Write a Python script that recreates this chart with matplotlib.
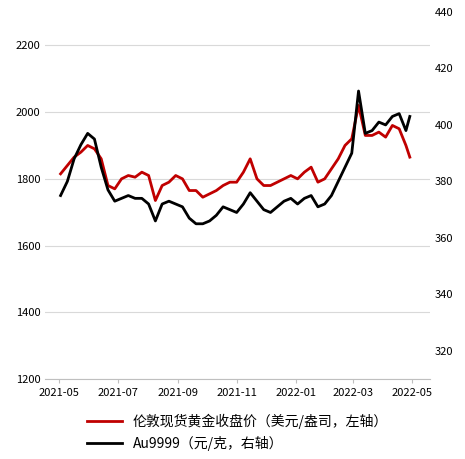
import matplotlib
matplotlib.use("Agg")
import matplotlib.pyplot as plt
import matplotlib.dates as mdates
import numpy as np
import pandas as pd

plt.rcParams['font.family'] = ['Noto Sans CJK SC', 'DejaVu Sans']

# approximate weekly values
dates = pd.to_datetime([
    "2021-05-03", "2021-05-10", "2021-05-17", "2021-05-24", "2021-05-31", "2021-06-07",
    "2021-06-14", "2021-06-21", "2021-06-28", "2021-07-05", "2021-07-12", "2021-07-19",
    "2021-07-26", "2021-08-02", "2021-08-09", "2021-08-16", "2021-08-23", "2021-08-30",
    "2021-09-06", "2021-09-13", "2021-09-20", "2021-09-27", "2021-10-04", "2021-10-11",
    "2021-10-18", "2021-10-25", "2021-11-01", "2021-11-08", "2021-11-15", "2021-11-22",
    "2021-11-29", "2021-12-06", "2021-12-13", "2021-12-20", "2021-12-27", "2022-01-03",
    "2022-01-10", "2022-01-17", "2022-01-24", "2022-01-31", "2022-02-07", "2022-02-14",
    "2022-02-21", "2022-02-28", "2022-03-07", "2022-03-14", "2022-03-21", "2022-03-28",
    "2022-04-04", "2022-04-11", "2022-04-18", "2022-04-25", "2022-04-29",
])
london_gold = [
    1815, 1840, 1865, 1880, 1900, 1890, 1860, 1780, 1770, 1800, 1810, 1805,
    1820, 1810, 1735, 1780, 1790, 1810, 1800, 1765, 1765, 1745, 1755, 1765,
    1780, 1790, 1790, 1820, 1860, 1800, 1780, 1780, 1790, 1800, 1810, 1800,
    1820, 1835, 1790, 1800, 1830, 1860, 1900, 1920, 2020, 1930, 1930, 1940,
    1925, 1960, 1950, 1900, 1865,
]
au9999 = [
    375, 380, 388, 393, 397, 395, 385, 377, 373, 374, 375, 374,
    374, 372, 366, 372, 373, 372, 371, 367, 365, 365, 366, 368,
    371, 370, 369, 372, 376, 373, 370, 369, 371, 373, 374, 372,
    374, 375, 371, 372, 375, 380, 385, 390, 412, 397, 398, 401,
    400, 403, 404, 398, 403,
]

fig = plt.figure(figsize=(4.65, 4.59), dpi=100)
ax = fig.add_axes([0.097, 0.174, 0.828, 0.80])
ax2 = ax.twinx()

l1, = ax.plot(dates, london_gold, color="#c00000", linewidth=2,
              label="伦敦现货黄金收盘价（美元/盎司，左轴）")
l2, = ax2.plot(dates, au9999, color="black", linewidth=2,
               label="Au9999（元/克，右轴）")

ax.set_ylim(1200, 2300)
ax.set_yticks([1200, 1400, 1600, 1800, 2000, 2200])
ax2.set_ylim(310, 440)
ax2.set_yticks([320, 340, 360, 380, 400, 420, 440])
ax.set_xlim(pd.Timestamp("2021-04-17"), pd.Timestamp("2022-05-20"))
ax.xaxis.set_major_locator(mdates.MonthLocator(bymonth=[1, 3, 5, 7, 9, 11]))
ax.xaxis.set_major_formatter(mdates.DateFormatter("%Y-%m"))

ax.grid(axis="y", color="#d9d9d9", linewidth=0.8)
ax.set_axisbelow(True)
for a in (ax, ax2):
    for s in ("top", "left", "right"):
        a.spines[s].set_visible(False)
    a.tick_params(labelsize=8, length=0)
ax.spines["bottom"].set_color("#bfbfbf")
ax2.spines["bottom"].set_visible(False)
ax.tick_params(axis="x", length=3, color="#bfbfbf")

fig.legend(handles=[l1, l2], loc="lower left", bbox_to_anchor=(0.16, -0.01),
           frameon=False, fontsize=10, ncol=1, handlelength=2.5)

fig.savefig("out.png", dpi=100)
